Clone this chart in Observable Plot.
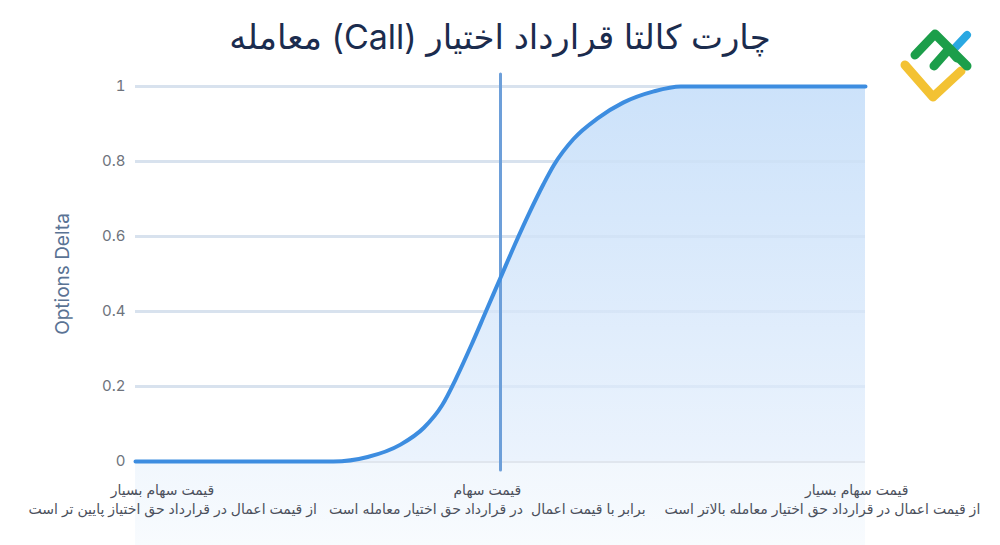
<!DOCTYPE html>
<html><head><meta charset="utf-8">
<script src="https://cdn.jsdelivr.net/npm/d3@7"></script>
<script src="https://cdn.jsdelivr.net/npm/@observablehq/plot@0.6"></script>
<style>
body{margin:0;background:#fff;width:1000px;height:545px;overflow:hidden;position:relative;font-family:Inter,"DejaVu Sans",sans-serif}
#title{height:60px;box-sizing:border-box;padding-top:16px;text-align:center;font-size:34px;line-height:42px;color:#1b2c4e;direction:rtl;white-space:nowrap}
#logo{position:absolute;left:893px;top:25px}
#chart svg{display:block}
</style></head><body>
<div id="title"></div>
<svg id="logo" width="90" height="85" viewBox="0 0 90 85">
  <path d="M12 40 L40 72 L68 46" fill="none" stroke="#f3c233" stroke-width="9" stroke-linecap="round" stroke-linejoin="round"/>
  <path d="M60 25 L74 10" fill="none" stroke="#2aa8e2" stroke-width="8" stroke-linecap="round"/>
  <path d="M22 30 L42 9 L74 41" fill="none" stroke="#1c9e4a" stroke-width="9" stroke-linecap="round" stroke-linejoin="round"/>
  <path d="M41 41 L56 24 L64 33" fill="none" stroke="#1c9e4a" stroke-width="9" stroke-linecap="round" stroke-linejoin="round"/>
</svg>
<div id="chart"></div>
<script>
const titleText = "چارت کالتا قرارداد اختیار (Call) معامله";
const yLabel = "Options Delta";
const yTicks = [0, 0.2, 0.4, 0.6, 0.8, 1];
const strike = 50;
const price = [0, 27.1, 31.8, 36.3, 39.5, 42.0, 44.0, 46.0, 48.0, 50.0, 52.0, 54.0, 55.9, 57.3, 60.0, 63.3, 66.8, 71.0, 74.7, 100];
const delta = [0, 0, 0.012, 0.045, 0.09, 0.15, 0.225, 0.31, 0.40, 0.49, 0.58, 0.665, 0.74, 0.79, 0.86, 0.915, 0.957, 0.987, 1, 1];
const labelLine1 = ["قیمت سهام بسیار", "قیمت سهام", "قیمت سهام بسیار"];
const labelLine1X = [3.7, 48.2, 98.8];
const labelLine2 = ["از قیمت اعمال در قرارداد حق اختیاز پایین تر است", "برابر با قیمت اعمال  در قرارداد حق اختیار معامله است", "از قیمت اعمال در قرارداد حق اختیار معامله بالاتر است"];
const labelLine2X = [5.1, 48.2, 94.1];

document.getElementById("title").textContent = titleText;

const curve = price.map((p, i) => ({price: p, delta: delta[i]}));
const l1 = labelLine1.map((t, i) => ({x: labelLine1X[i], t}));
const l2 = labelLine2.map((t, i) => ({x: labelLine2X[i], t}));

const chart = Plot.plot({
  width: 1000,
  height: 485,
  marginLeft: 135,
  marginRight: 135,
  marginTop: 26,
  marginBottom: 84,
  style: {fontFamily: "Inter, 'DejaVu Sans', sans-serif", background: "transparent"},
  x: {domain: [0, 100], axis: null},
  y: {domain: [0, 1], axis: null},
  marks: [
    Plot.rect([{}], {x1: 0, x2: 100, y1: -0.224, y2: 0, fill: "url(#bgGrad)"}),
    Plot.ruleY(yTicks, {stroke: "#e0e6ee", strokeWidth: 3}),
    Plot.areaY(curve, {x: "price", y: "delta", curve: "monotone-x", fill: "url(#areaGrad)"}),
    Plot.ruleY(yTicks.slice(1), {stroke: "#c9daee", strokeWidth: 3, strokeOpacity: 0.35}),
    Plot.ruleX([strike], {y1: -0.024, y2: 1.032, stroke: "#6d9fd9", strokeWidth: 3, strokeLinecap: "round"}),
    Plot.lineY(curve, {x: "price", y: "delta", curve: "monotone-x", stroke: "#3d8de0", strokeWidth: 4, strokeLinecap: "round"}),
    Plot.axisY(yTicks, {tickSize: 0, tickPadding: 10, fontSize: 15, color: "#6e737c", label: null, tickFormat: d => String(d)}),
    Plot.text([yLabel], {frameAnchor: "left", textAnchor: "middle", rotate: -90, dx: -73, fontSize: 19, fill: "#5a7394", text: d => d}),
    Plot.text(l1, {x: "x", y: 0, text: "t", dy: 29, fontSize: 14, fill: "#4b505c"}),
    Plot.text(l2, {x: "x", y: 0, text: "t", dy: 48, fontSize: 14, fill: "#4b505c"})
  ]
});

const ns = "http://www.w3.org/2000/svg";
const defs = document.createElementNS(ns, "defs");
defs.innerHTML = `
<linearGradient id="areaGrad" x1="0" y1="0" x2="0" y2="1">
  <stop offset="0" stop-color="#cce2fa"/>
  <stop offset="1" stop-color="#ebf3fd"/>
</linearGradient>
<linearGradient id="bgGrad" x1="0" y1="0" x2="0" y2="1">
  <stop offset="0" stop-color="#f1f7fd"/>
  <stop offset="1" stop-color="#f8fbfe"/>
</linearGradient>`;
chart.insertBefore(defs, chart.firstChild);
document.getElementById("chart").appendChild(chart);
</script>
</body></html>
